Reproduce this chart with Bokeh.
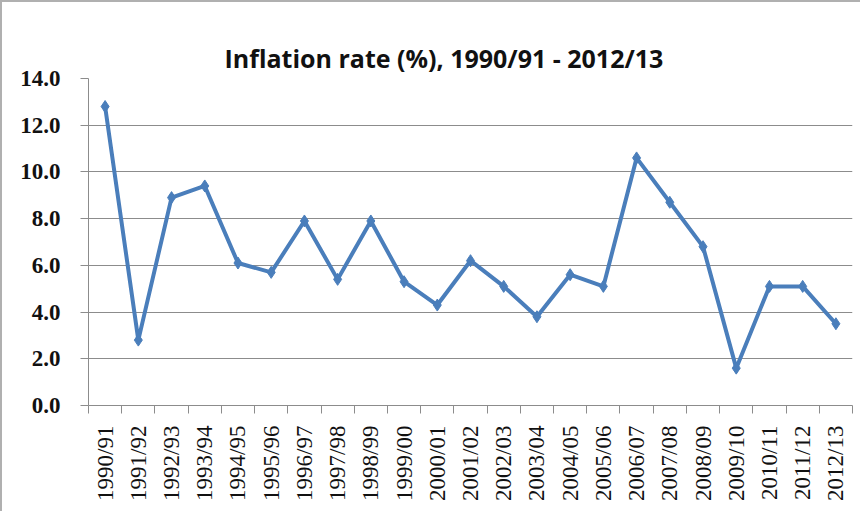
from bokeh.plotting import figure
from bokeh.models import ColumnDataSource, FixedTicker, Range1d
from bokeh.embed import file_html
from bokeh.resources import INLINE
import math

years = ["1990/91", "1991/92", "1992/93", "1993/94", "1994/95", "1995/96",
         "1996/97", "1997/98", "1998/99", "1999/00", "2000/01", "2001/02",
         "2002/03", "2003/04", "2004/05", "2005/06", "2006/07", "2007/08",
         "2008/09", "2009/10", "2010/11", "2011/12", "2012/13"]
inflation = [12.8, 2.8, 8.9, 9.4, 6.1, 5.7, 7.9, 5.4, 7.9, 5.3, 4.3, 6.2,
             5.1, 3.8, 5.6, 5.1, 10.6, 8.7, 6.8, 1.6, 5.1, 5.1, 3.5]
y_ticks = [0, 2, 4, 6, 8, 10, 12, 14]

xpos = [i + 0.5 for i in range(len(years))]
src = ColumnDataSource(dict(x=xpos, y=inflation, label=years))

p = figure(width=860, height=511, output_backend="svg", toolbar_location=None,
           x_range=Range1d(0, len(years)), y_range=Range1d(0, 14),
           min_border_left=86, min_border_right=10, min_border_top=76,
           min_border_bottom=108)

p.title.text = "Inflation rate (%), 1990/91 - 2012/13"
p.title.align = "left"
p.title.offset = 136
p.title.text_font = "Open Sans"
p.title.text_font_style = "bold"
p.title.text_font_size = "25px"
p.title.text_color = "#111111"
p.title.standoff = 8

p.outline_line_color = None
p.background_fill_color = "white"
p.border_fill_color = "white"
p.styles = {"border-left": "2px solid #b0b0b0", "border-top": "2px solid #b0b0b0"}

p.line("x", "y", source=src, line_color="#4A7EBB", line_width=4)
p.scatter("x", "y", source=src, marker="diamond", size=12, fill_color="#4A7EBB",
          line_color="#4A7EBB")

# grid
p.xgrid.grid_line_color = None
p.ygrid.grid_line_color = "#8c8c8c"
p.ygrid.grid_line_width = 1
p.ygrid.ticker = FixedTicker(ticks=y_ticks)

# y axis
p.yaxis.ticker = FixedTicker(ticks=y_ticks)
p.yaxis.major_label_overrides = {t: f"{t:.1f}" for t in y_ticks}
p.yaxis.major_label_text_font = "Liberation Serif"
p.yaxis.major_label_text_font_style = "bold"
p.yaxis.major_label_text_font_size = "23px"
p.yaxis.major_label_text_color = "#111111"
p.yaxis.axis_line_color = "#8c8c8c"
p.yaxis.major_tick_line_color = "#8c8c8c"
p.yaxis.major_tick_out = 8
p.yaxis.major_tick_in = 0
p.yaxis.minor_tick_line_color = None
p.yaxis.major_label_standoff = 20

# x axis
p.xaxis.ticker = FixedTicker(ticks=xpos, minor_ticks=list(range(len(years) + 1)))
p.xaxis.major_label_overrides = {x: lab for x, lab in zip(xpos, years)}
p.xaxis.major_label_orientation = math.pi / 2
p.xaxis.major_label_text_font = "Liberation Serif"
p.xaxis.major_label_text_font_size = "23px"
p.xaxis.major_label_text_color = "#111111"
p.xaxis.major_tick_line_color = None
p.xaxis.minor_tick_line_color = "#8c8c8c"
p.xaxis.minor_tick_out = 8
p.xaxis.minor_tick_in = 0
p.xaxis.axis_line_color = "#8c8c8c"
p.xaxis.major_label_standoff = 12

open("out.html", "w").write(file_html(p, INLINE))
